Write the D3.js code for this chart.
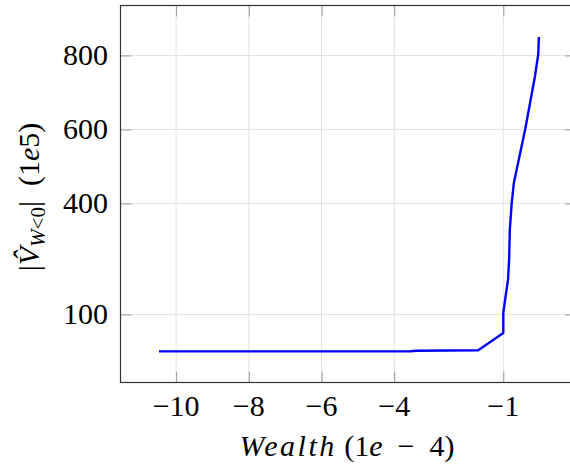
<!DOCTYPE html>
<html>
<head>
<meta charset="utf-8">
<script src="https://cdn.jsdelivr.net/npm/d3@7"></script>
<style>
  body { margin: 0; background: #fff; }
  text { font-family: "Liberation Serif", "DejaVu Serif", serif; fill: #000; }
</style>
</head>
<body>
<div id="container"></div>
<script>
// datos
var wealth = [-10.47, -4.6, -3.55, -3.4, -1.69, -1.0, -1.0, -0.95, -0.87, -0.84, -0.82, -0.77, -0.71, -0.40, -0.13, -0.04, -0.02]
var volumen = [0, 0, 0.5, 2, 3, 50, 104, 140, 194, 248, 329, 399, 455, 599, 743, 802, 850]
var xTicks = [-10, -8, -6, -4, -1]
var yTicks = [100, 400, 600, 800]

ancho = 570
alto = 466
izq = 120.5
der = 576
arriba = 5.5
abajo = 382.5

// Escalas
escalaX = d3.scaleLinear()
    .domain([-11.53, 1.0])
    .range([izq, der])
escalaY = d3.scaleLinear()
    .domain([-84, 935])
    .range([abajo, arriba])

svg = d3.select("#container")
    .append("svg")
    .attr("width", ancho)
    .attr("height", alto)

// rejilla
svg.selectAll("line.gx")
    .data(xTicks)
    .enter()
    .append("line")
    .attr("x1", function(d){ return escalaX(d) })
    .attr("x2", function(d){ return escalaX(d) })
    .attr("y1", arriba)
    .attr("y2", abajo)
    .attr("stroke", "#e3e3e3")
    .attr("stroke-width", 1)
svg.selectAll("line.gy")
    .data(yTicks)
    .enter()
    .append("line")
    .attr("x1", izq)
    .attr("x2", der)
    .attr("y1", function(d){ return escalaY(d) })
    .attr("y2", function(d){ return escalaY(d) })
    .attr("stroke", "#e3e3e3")
    .attr("stroke-width", 1)

// ejes (ticks hacia dentro, arriba/abajo/izq/der)
var tk = 11
svg.append("g").attr("transform", "translate(0," + abajo + ")")
    .call(d3.axisTop(escalaX).tickValues(xTicks).tickSize(tk).tickFormat(""))
svg.append("g").attr("transform", "translate(0," + arriba + ")")
    .call(d3.axisBottom(escalaX).tickValues(xTicks).tickSize(tk).tickFormat(""))
svg.append("g").attr("transform", "translate(" + izq + ",0)")
    .call(d3.axisRight(escalaY).tickValues(yTicks).tickSize(tk).tickFormat(""))
svg.append("g").attr("transform", "translate(" + der + ",0)")
    .call(d3.axisLeft(escalaY).tickValues(yTicks).tickSize(tk).tickFormat(""))
svg.selectAll(".domain").remove()
svg.selectAll(".tick line").attr("stroke", "#999")

// marco
svg.append("rect")
    .attr("x", izq)
    .attr("y", arriba)
    .attr("width", der - izq)
    .attr("height", abajo - arriba)
    .attr("fill", "none")
    .attr("stroke", "#333")
    .attr("stroke-width", 1.2)

// etiquetas de ticks
svg.selectAll("text.tx")
    .data(xTicks)
    .enter()
    .append("text")
    .attr("x", function(d){ return escalaX(d) })
    .attr("y", 416)
    .attr("text-anchor", "middle")
    .attr("font-size", 30)
    .text(function(d){ return "\u2212" + Math.abs(d) })
svg.selectAll("text.ty")
    .data(yTicks)
    .enter()
    .append("text")
    .attr("x", 108)
    .attr("y", function(d){ return escalaY(d) })
    .attr("dy", "0.33em")
    .attr("text-anchor", "end")
    .attr("font-size", 30)
    .text(function(d){ return d })

// linea
var puntos = wealth.map(function(w, i){ return [w, volumen[i]] })
var linea = d3.line()
    .x(function(d){ return escalaX(d[0]) })
    .y(function(d){ return escalaY(d[1]) })
svg.append("path")
    .datum(puntos)
    .attr("d", linea)
    .attr("fill", "none")
    .attr("stroke", "#0000ff")
    .attr("stroke-width", 2.4)
    .attr("stroke-linejoin", "round")

// titulo eje x
var tx = svg.append("text")
    .attr("x", 347)
    .attr("y", 456)
    .attr("text-anchor", "middle")
    .attr("font-size", 30)
tx.append("tspan").attr("font-style", "italic").attr("letter-spacing", 2.5).text("Wealth")
tx.append("tspan").text(" (1")
tx.append("tspan").attr("font-style", "italic").text("e")
tx.append("tspan").text("\u2002\u2212\u20024)")

// titulo eje y
var ty = svg.append("text")
    .attr("transform", "translate(39,197) rotate(-90)")
    .attr("text-anchor", "middle")
    .attr("font-size", 30)
ty.append("tspan").text("|")
ty.append("tspan").attr("font-style", "italic").text("V\u0302")
ty.append("tspan").attr("font-style", "italic").attr("font-size", 21).attr("dy", 6).text("W")
ty.append("tspan").attr("font-size", 21).text("<0")
ty.append("tspan").attr("dy", -6).text("|\u2002(1")
ty.append("tspan").attr("font-style", "italic").text("e")
ty.append("tspan").text("5)")
</script>
</body>
</html>
